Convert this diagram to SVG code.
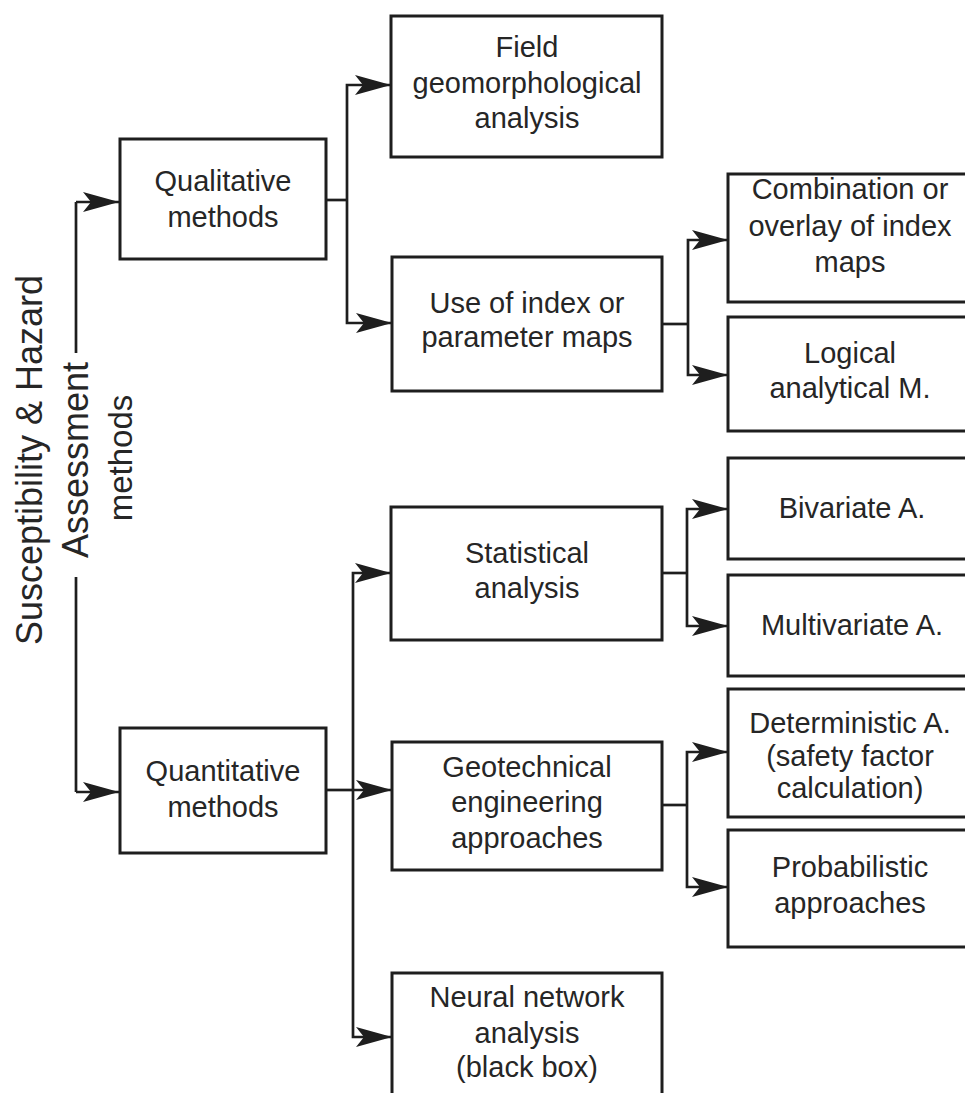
<svg xmlns="http://www.w3.org/2000/svg" width="965" height="1093" viewBox="0 0 965 1093">
<style>
.box{fill:#fff;stroke:#1e1e1e;stroke-width:3}
.t{font-family:"Liberation Sans",Arial,sans-serif;font-size:29px;fill:#262626;text-anchor:middle}
.v{font-family:"Liberation Sans",Arial,sans-serif;fill:#262626;text-anchor:middle}
.c{fill:none;stroke:#1e1e1e;stroke-width:2.7}
.a{fill:none;stroke:#1e1e1e;stroke-width:2.7;marker-end:url(#ah)}
</style>
<defs>
<marker id="ah" markerUnits="userSpaceOnUse" markerWidth="38" markerHeight="22" refX="36" refY="10" orient="auto">
<path d="M0,0 L36,10 L0,20 L8,10 Z" fill="#1e1e1e"/>
</marker>
</defs>
<rect width="965" height="1093" fill="#fff"/>
<g id="connectors">
<path class="c" d="M76,353 V202"/>
<path class="a" d="M76,202 H119"/>
<path class="c" d="M76,577 V792"/>
<path class="a" d="M76,792 H119"/>
<path class="c" d="M326,200 H347"/>
<path class="a" d="M347,200 V85 H391"/>
<path class="a" d="M347,200 V323 H392"/>
<path class="c" d="M662,324 H688"/>
<path class="a" d="M688,324 V240 H728"/>
<path class="a" d="M688,324 V375 H728"/>
<path class="c" d="M662,573 H687"/>
<path class="a" d="M687,573 V509 H728"/>
<path class="a" d="M687,573 V626 H728"/>
<path class="c" d="M662,805 H687"/>
<path class="a" d="M687,805 V752 H728"/>
<path class="a" d="M687,805 V887 H728"/>
<path class="c" d="M326,790 H353"/>
<path class="a" d="M353,790 V573 H391"/>
<path class="a" d="M353,790 H392"/>
<path class="a" d="M353,790 V1037 H392"/>
</g>
<g id="label">
<text class="v" font-size="36" transform="translate(42,460) rotate(-90)">Susceptibility &amp; Hazard</text>
<text class="v" font-size="36" transform="translate(88,460) rotate(-90)">Assessment</text>
<text class="v" font-size="33" transform="translate(132,458) rotate(-90)">methods</text>
</g>
<g id="qualitative">
<rect class="box" x="120" y="139" width="206" height="120"/>
<text class="t" x="223" y="191">Qualitative</text>
<text class="t" x="223" y="227">methods</text>
</g>
<g id="field">
<rect class="box" x="391" y="16" width="271" height="141"/>
<text class="t" x="527" y="57">Field</text>
<text class="t" x="527" y="93">geomorphological</text>
<text class="t" x="527" y="128">analysis</text>
</g>
<g id="index">
<rect class="box" x="392" y="257" width="270" height="134"/>
<text class="t" x="527" y="313">Use of index or</text>
<text class="t" x="527" y="347">parameter maps</text>
</g>
<g id="combination">
<rect class="box" x="728" y="174" width="250" height="128"/>
<text class="t" x="850" y="199">Combination or</text>
<text class="t" x="850" y="236">overlay of index</text>
<text class="t" x="850" y="272">maps</text>
</g>
<g id="logical">
<rect class="box" x="728" y="317" width="250" height="114"/>
<text class="t" x="850" y="363">Logical</text>
<text class="t" x="850" y="398">analytical M.</text>
</g>
<g id="statistical">
<rect class="box" x="391" y="507" width="271" height="133"/>
<text class="t" x="527" y="563">Statistical</text>
<text class="t" x="527" y="598">analysis</text>
</g>
<g id="bivariate">
<rect class="box" x="728" y="458" width="250" height="101"/>
<text class="t" x="852" y="518">Bivariate A.</text>
</g>
<g id="multivariate">
<rect class="box" x="728" y="575" width="250" height="101"/>
<text class="t" x="852" y="635">Multivariate A.</text>
</g>
<g id="quantitative">
<rect class="box" x="120" y="728" width="206" height="125"/>
<text class="t" x="223" y="781">Quantitative</text>
<text class="t" x="223" y="817">methods</text>
</g>
<g id="geotechnical">
<rect class="box" x="392" y="742" width="270" height="128"/>
<text class="t" x="527" y="777">Geotechnical</text>
<text class="t" x="527" y="812">engineering</text>
<text class="t" x="527" y="848">approaches</text>
</g>
<g id="deterministic">
<rect class="box" x="728" y="689" width="250" height="128"/>
<text class="t" x="850" y="733">Deterministic A.</text>
<text class="t" x="850" y="766">(safety factor</text>
<text class="t" x="850" y="798">calculation)</text>
</g>
<g id="probabilistic">
<rect class="box" x="728" y="830" width="250" height="117"/>
<text class="t" x="850" y="877">Probabilistic</text>
<text class="t" x="850" y="913">approaches</text>
</g>
<g id="neural">
<rect class="box" x="392" y="973" width="270" height="140"/>
<text class="t" x="527" y="1007">Neural network</text>
<text class="t" x="527" y="1043">analysis</text>
<text class="t" x="527" y="1077">(black box)</text>
</g>
</svg>
